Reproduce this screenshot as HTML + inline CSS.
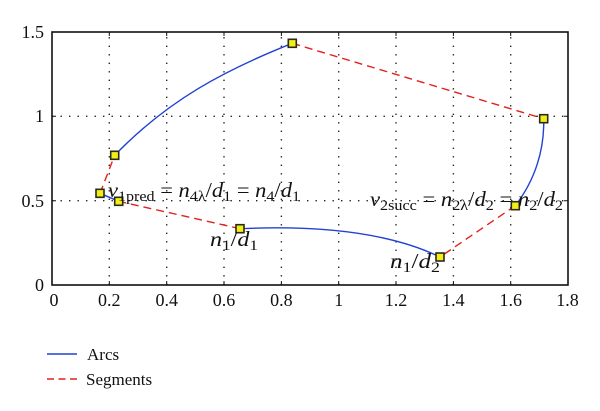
<!DOCTYPE html>
<html><head><meta charset="utf-8"><style>
html,body{margin:0;padding:0;background:#fff;}
svg{display:block;}
text{font-family:"Liberation Serif",serif;fill:#111;}
</style></head><body>
<svg width="600" height="411" viewBox="0 0 600 411" xmlns="http://www.w3.org/2000/svg">
<!-- grid -->
<g stroke="#222" stroke-width="1.4" stroke-dasharray="1.4 7.1" fill="none">
<line x1="109.3" y1="285" x2="109.3" y2="32"/>
<line x1="166.7" y1="285" x2="166.7" y2="32"/>
<line x1="224" y1="285" x2="224" y2="32"/>
<line x1="281.4" y1="285" x2="281.4" y2="32"/>
<line x1="338.7" y1="285" x2="338.7" y2="32"/>
<line x1="396" y1="285" x2="396" y2="32"/>
<line x1="453.4" y1="285" x2="453.4" y2="32"/>
<line x1="510.7" y1="285" x2="510.7" y2="32"/>
<line x1="52" y1="116.3" x2="568" y2="116.3"/>
<line x1="52" y1="200.7" x2="568" y2="200.7"/>
</g>
<!-- ticks -->
<g stroke="#111" stroke-width="1">
<path d="M109.3 285v-4M166.7 285v-4M224 285v-4M281.4 285v-4M338.7 285v-4M396 285v-4M453.4 285v-4M510.7 285v-4"/>
<path d="M109.3 32v4M166.7 32v4M224 32v4M281.4 32v4M338.7 32v4M396 32v4M453.4 32v4M510.7 32v4"/>
<path d="M52 116.3h4M52 200.7h4M568 116.3h-4M568 200.7h-4"/>
</g>
<rect x="52" y="32" width="516" height="253" fill="none" stroke="#111" stroke-width="1.6"/>
<!-- arcs -->
<g fill="none" stroke="#2142d6" stroke-width="1.4">
<path d="M114.7 155.3 C168 100 225 70 292.3 43.3"/>
<path d="M543.7 118.7 C544.5 150 535 180 515.3 205.7"/>
<path d="M240 228.7 C300 226 380 228 440 257"/>
<path d="M100 193.3 L118.7 201.3"/>
</g>
<!-- segments -->
<g fill="none" stroke="#e3211c" stroke-width="1.4" stroke-dasharray="8 5">
<path d="M292.3 43.3 L543.7 118.7"/>
<path d="M515.3 205.7 L440 257"/>
<path d="M240 228.7 L118.7 201.3"/>
<path d="M100 193.3 L114.7 155.3"/>
</g>
<!-- markers -->
<g fill="#f2ee1a" stroke="#2a2a1a" stroke-width="1.6">
<rect x="110.7" y="151.3" width="8" height="8"/>
<rect x="288.3" y="39.3" width="8" height="8"/>
<rect x="539.7" y="114.7" width="8" height="8"/>
<rect x="511.3" y="201.7" width="8" height="8"/>
<rect x="436" y="253" width="8" height="8"/>
<rect x="236" y="224.7" width="8" height="8"/>
<rect x="114.7" y="197.3" width="8" height="8"/>
<rect x="96" y="189.3" width="8" height="8"/>
</g>
<!-- tick labels -->
<g font-size="18" text-anchor="end">
<text x="44" y="38">1.5</text>
<text x="44" y="122">1</text>
<text x="44" y="207">0.5</text>
<text x="44" y="291">0</text>
</g>
<g font-size="18" text-anchor="middle">
<text x="54" y="306">0</text>
<text x="109.3" y="306">0.2</text>
<text x="166.7" y="306">0.4</text>
<text x="224" y="306">0.6</text>
<text x="281.4" y="306">0.8</text>
<text x="338.7" y="306">1</text>
<text x="396" y="306">1.2</text>
<text x="453.4" y="306">1.4</text>
<text x="510.7" y="306">1.6</text>
<text x="567.5" y="306">1.8</text>
</g>
<!-- annotations -->
<text x="108" y="197" font-size="21" textLength="192" lengthAdjust="spacingAndGlyphs"><tspan font-style="italic">v</tspan><tspan font-size="15" dy="4">1pred</tspan><tspan dy="-4"> = </tspan><tspan font-style="italic">n</tspan><tspan font-size="15" dy="4">4λ</tspan><tspan dy="-4">/</tspan><tspan font-style="italic">d</tspan><tspan font-size="15" dy="4">1</tspan><tspan dy="-4"> = </tspan><tspan font-style="italic">n</tspan><tspan font-size="15" dy="4">4</tspan><tspan dy="-4">/</tspan><tspan font-style="italic">d</tspan><tspan font-size="15" dy="4">1</tspan></text>
<text x="210" y="246" font-size="21" textLength="48" lengthAdjust="spacingAndGlyphs"><tspan font-style="italic">n</tspan><tspan font-size="15" dy="4">1</tspan><tspan dy="-4">/</tspan><tspan font-style="italic">d</tspan><tspan font-size="15" dy="4">1</tspan></text>
<text x="370" y="206" font-size="21" textLength="193" lengthAdjust="spacingAndGlyphs"><tspan font-style="italic">v</tspan><tspan font-size="15" dy="4">2succ</tspan><tspan dy="-4"> = </tspan><tspan font-style="italic">n</tspan><tspan font-size="15" dy="4">2λ</tspan><tspan dy="-4">/</tspan><tspan font-style="italic">d</tspan><tspan font-size="15" dy="4">2</tspan><tspan dy="-4"> = </tspan><tspan font-style="italic">n</tspan><tspan font-size="15" dy="4">2</tspan><tspan dy="-4">/</tspan><tspan font-style="italic">d</tspan><tspan font-size="15" dy="4">2</tspan></text>
<text x="390" y="268" font-size="21" textLength="50" lengthAdjust="spacingAndGlyphs"><tspan font-style="italic">n</tspan><tspan font-size="15" dy="4">1</tspan><tspan dy="-4">/</tspan><tspan font-style="italic">d</tspan><tspan font-size="15" dy="4">2</tspan></text>
<!-- legend -->
<line x1="47" y1="354" x2="77" y2="354" stroke="#2142d6" stroke-width="1.4"/>
<line x1="47" y1="379" x2="77" y2="379" stroke="#e3211c" stroke-width="1.4" stroke-dasharray="7 4.5"/>
<text x="87" y="360" font-size="17">Arcs</text>
<text x="86" y="385" font-size="17">Segments</text>
</svg>
</body></html>
